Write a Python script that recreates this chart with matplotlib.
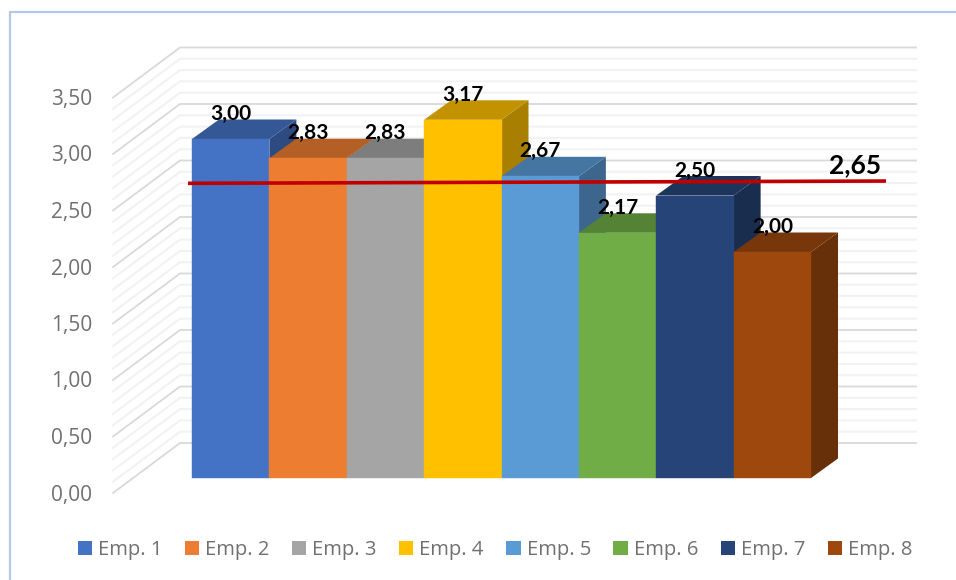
import numpy as np
import matplotlib
matplotlib.use('Agg')
from matplotlib import pyplot as plt
from matplotlib.patches import Polygon, Patch
from matplotlib.colors import to_rgb

### Data ###
names = ['Emp. 1', 'Emp. 2', 'Emp. 3', 'Emp. 4', 'Emp. 5', 'Emp. 6', 'Emp. 7', 'Emp. 8']
values = [3.00, 2.83, 2.83, 3.17, 2.67, 2.17, 2.50, 2.00]
colors = ['#4472C4', '#ED7D31', '#A5A5A5', '#FFC000', '#5B9BD5', '#70AD47', '#264478', '#9E480E']
avg = 2.65
major_ticks = [0.0, 0.5, 1.0, 1.5, 2.0, 2.5, 3.0, 3.5]

### Layout, in pixels ###
W, H = 956, 580
BAR_LEFT, BAR_RIGHT, BAR_BASE = 192, 811, 478
PX_PER_UNIT = 113
BAR_W = (BAR_RIGHT - BAR_LEFT)/len(values)
DEPTH_X = 27/BAR_W      # 3D depth of a bar, in bar widths
DEPTH_Y = 19.5/PX_PER_UNIT
##################

def comma(v):
    return f'{v:.2f}'.replace('.', ',')

def shade(col, k):
    return tuple(c*k for c in to_rgb(col))

def px_x(p):
    return (p - BAR_LEFT)/BAR_W

def px_y(p):
    return (BAR_BASE - p)/PX_PER_UNIT

fig = plt.figure(figsize=(W/100, H/100), dpi=100)
ax = fig.add_axes([0, 0, 1, 1])
ax.set_xlim(px_x(0), px_x(W))
ax.set_ylim(px_y(H), px_y(0))
ax.axis('off')

# chart frame
ax.plot([px_x(9.5), px_x(9.5), px_x(W)], [px_y(H), px_y(11.5), px_y(11.5)],
        color='#B4C7E7', lw=1.6, solid_capstyle='butt', zorder=1)

# floor-to-wall gridlines: slanted side wall, then the back wall
wall_front, wall_back, wall_right = px_x(113), px_x(180), px_x(916)
front_y0, back_y0 = px_y(493), px_y(443)
for t in np.arange(0, 36):
    v = t/10
    major = t % 5 == 0
    ax.plot([wall_front, wall_back, wall_right], [front_y0 + v, back_y0 + v, back_y0 + v],
            color='#D9D9D9' if major else '#F2F2F2', lw=1.3 if major else 1.5,
            solid_joinstyle='miter', zorder=2 if major else 1.5)

for v in major_ticks:
    ax.text(px_x(92), front_y0 + v - 2/PX_PER_UNIT, comma(v), ha='right', va='center',
            fontsize=15, color='#707070', family='Open Sans')

# bars go left to right so each one covers the side of the previous
for i, (v, c) in enumerate(zip(values, colors)):
    z = 3 + i*0.1
    ax.bar(i, v, width=1, align='edge', color=c, edgecolor=c, linewidth=0.3, zorder=z + 0.02)
    ax.add_patch(Polygon([(i, v), (i + 1, v), (i + 1 + DEPTH_X, v + DEPTH_Y), (i + DEPTH_X, v + DEPTH_Y)],
                         closed=True, facecolor=shade(c, 0.76), edgecolor='none', zorder=z + 0.01))
    ax.add_patch(Polygon([(i + 1, 0), (i + 1, v), (i + 1 + DEPTH_X, v + DEPTH_Y), (i + 1 + DEPTH_X, DEPTH_Y)],
                         closed=True, facecolor=shade(c, 0.66), edgecolor='none', zorder=z))

for i, v in enumerate(values):
    ax.text(i + 0.5, v + 25/PX_PER_UNIT, comma(v), ha='center', va='center',
            fontsize=15, fontweight='bold', color='black', family='Lato', zorder=5)

# average line, sits a little in front of the bars
ax.plot([px_x(188), px_x(886)], [avg - 0.042, avg - 0.022], color='#C00000', lw=2.6,
        solid_capstyle='butt', zorder=6)
ax.text(px_x(855), avg + 0.115, comma(avg), ha='center', va='center', fontsize=19,
        fontweight='bold', color='black', family='Lato', zorder=7)

handles = [Patch(facecolor=c, edgecolor='none', label=n) for n, c in zip(names, colors)]
ax.legend(handles=handles, ncol=len(handles), frameon=False, loc='center',
          bbox_to_anchor=(495/W, 1 - 550/H), prop={'family': 'Open Sans', 'size': 14.5},
          labelcolor='#707070', handlelength=0.7, handleheight=0.7, handletextpad=0.3,
          columnspacing=1.12, borderpad=0, borderaxespad=0)

fig.savefig('out.png', dpi=100)
